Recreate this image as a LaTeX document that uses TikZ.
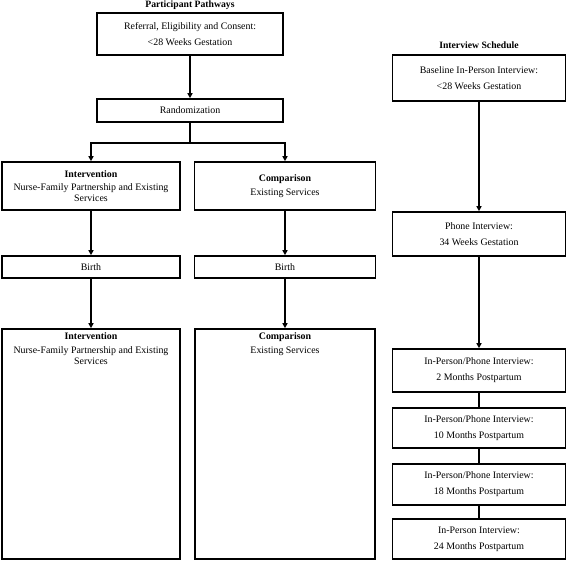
\documentclass[tikz,border=0pt]{standalone}
\usepackage{fontspec}
\setmainfont{Liberation Serif}
\usetikzlibrary{arrows.meta}
\newcommand{\fsA}{\fontsize{9.9}{16}\selectfont}
\newcommand{\fsB}{\fontsize{9.9}{11}\selectfont}
\begin{document}
\begin{tikzpicture}[x=1pt,y=-1pt,
  box/.style={draw, line width=1.6pt, inner sep=0pt, align=center, font=\fsA},
  wrapbox/.style={box, font=\fsB},
  ttl/.style={font=\fontsize{9.7}{12}\selectfont\bfseries, inner sep=0pt},
  arr/.style={line width=1.5pt, -{Triangle[length=5pt,width=5pt]}},
  lnk/.style={line width=1.5pt}]
\useasboundingbox (0,0) rectangle (568,560);
% titles
\node[ttl] (t1) at (190,5) {Participant Pathways};
\node[ttl] (t2) at (479,45) {Interview Schedule};
% left column
\node[box, minimum width=186pt, minimum height=42pt] (ref) at (190,34)
  {Referral, Eligibility and Consent:\\ {<}28 Weeks Gestation};
\node[box, minimum width=186pt, minimum height=23pt] (rand) at (190,110.5) {Randomization};
\node[wrapbox, minimum width=178pt, minimum height=48pt] (intA) at (91,186)
  {\textbf{Intervention}\\[2pt] Nurse-Family Partnership and Existing\\ Services};
\node[wrapbox, minimum width=181pt, minimum height=48pt] (comA) at (285,186)
  {\textbf{Comparison}\\[3pt] Existing Services};
\node[box, minimum width=178pt, minimum height=22pt] (birA) at (91,267) {Birth};
\node[box, minimum width=181pt, minimum height=22pt] (birB) at (285,267) {Birth};
\node[box, minimum width=178pt, minimum height=230pt] (bigA) at (91,444) {};
\node[box, minimum width=180pt, minimum height=230pt] (bigB) at (285,444) {};
\node[font=\fsB, align=center, anchor=north, inner sep=0pt] (bigAt) at ([yshift=-4pt]bigA.north)
  {\textbf{Intervention}\\[3pt] Nurse-Family Partnership and Existing\\ Services};
\node[font=\fsB, align=center, anchor=north, inner sep=0pt] (bigBt) at ([yshift=-4pt]bigB.north)
  {\textbf{Comparison}\\[3pt] Existing Services};
% right column
\node[box, minimum width=173pt, minimum height=46pt] (base) at (479,78)
  {Baseline In-Person Interview:\\ {<}28 Weeks Gestation};
\node[box, minimum width=173pt, minimum height=44pt] (phone) at (479,234)
  {Phone Interview:\\ 34 Weeks Gestation};
\node[box, minimum width=173pt, minimum height=43pt] (m2) at (479,370.5)
  {In-Person/Phone Interview:\\ 2 Months Postpartum};
\node[box, minimum width=173pt, minimum height=40pt] (m10) at (479,428)
  {In-Person/Phone Interview:\\ 10 Months Postpartum};
\node[box, minimum width=173pt, minimum height=41pt] (m18) at (479,484.5)
  {In-Person/Phone Interview:\\ 18 Months Postpartum};
\node[box, minimum width=173pt, minimum height=40pt] (m24) at (479,539)
  {In-Person Interview:\\ 24 Months Postpartum};
% connectors
\draw[arr] (ref) -- (rand);
\draw[arr] (rand.south) -- ++(0,20) -| (intA.north);
\draw[arr] (rand.south) -- ++(0,20) -| (comA.north);
\draw[arr] (intA) -- (birA);
\draw[arr] (comA) -- (birB);
\draw[arr] (birA) -- (bigA);
\draw[arr] (birB) -- (bigB);
\draw[arr] (base) -- (phone);
\draw[arr] (phone) -- (m2);
\draw[lnk] (m2) -- (m10);
\draw[lnk] (m10) -- (m18);
\draw[lnk] (m18) -- (m24);
\end{tikzpicture}
\end{document}
